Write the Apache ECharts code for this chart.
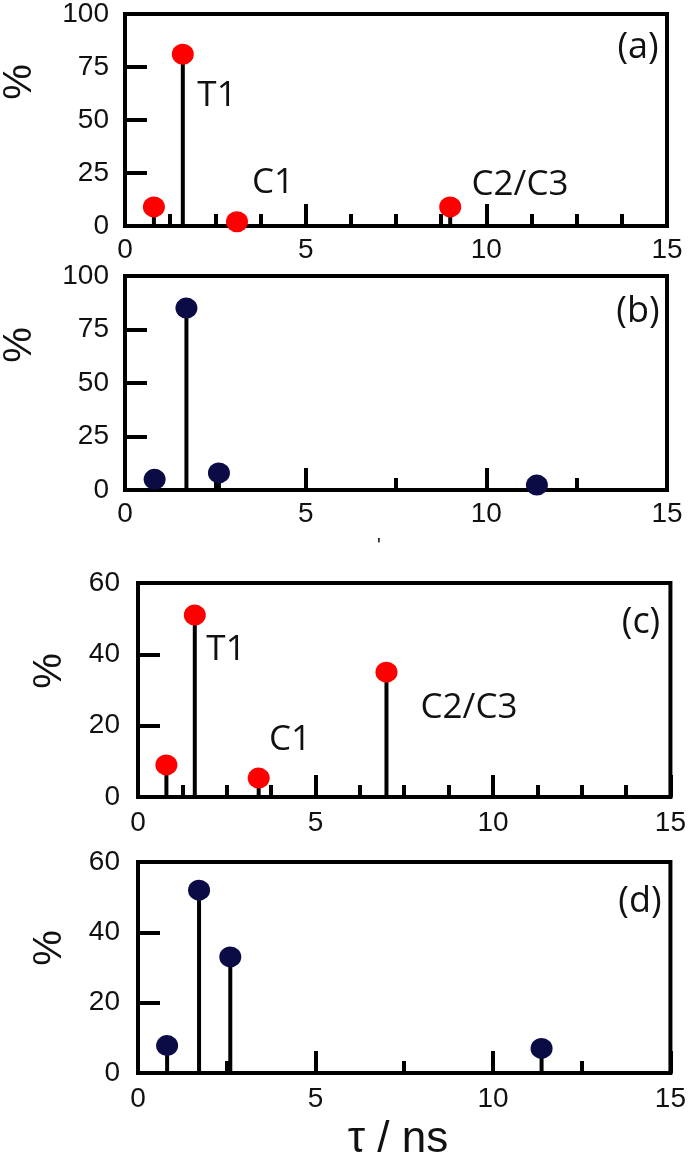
<!DOCTYPE html>
<html>
<head>
<meta charset="utf-8">
<script src="https://cdn.jsdelivr.net/npm/echarts@6/dist/echarts.min.js"></script>
<style>
	html, body { margin: 0; padding: 0; background: #fff; }
	#chart { width: 689px; height: 1162px; }
</style>
</head>
<body>
<div id="chart"></div>
<script>
	// 各面板数据 [tau(ns), %]
	var dataA = [ [ 0.8, 9 ], [ 1.6, 81 ], [ 3.1, 2 ], [ 9.0, 9 ] ];
	var dataB = [ [ 0.82, 5 ], [ 1.7, 85 ], [ 2.6, 8 ], [ 11.4, 2.3 ] ];
	var dataC = [ [ 0.8, 9 ], [ 1.6, 51 ], [ 3.4, 5.3 ], [ 7.0, 35 ] ];
	var dataD = [ [ 0.82, 7.8 ], [ 1.72, 52 ], [ 2.6, 33 ], [ 11.37, 7 ] ];
	var panelTags = [ '(a)', '(b)', '(c)', '(d)' ];
	var peakNames = [ 'T1', 'C1', 'C2/C3' ];
	var xTitle = 'τ / ns';
	var yTitle = '%';

	var red = '#ff0000';
	var navy = '#0b0b45';

	var grids = [
		{ left : 125, top : 13, width : 542, height : 213 },
		{ left : 125, top : 276, width : 542, height : 214 },
		{ left : 138, top : 583, width : 535, height : 214 },
		{ left : 138, top : 862, width : 535, height : 211 }
	];
	grids.forEach(function(g) {
		g.show = true;
		g.borderColor = '#000';
		g.borderWidth = 4;
		g.backgroundColor = 'transparent';
	});

	function xAx(i, minorSplit, margin) {
		return {
			type : 'value', gridIndex : i, min : 0, max : 15, interval : 5,
			axisLine : { lineStyle : { color : '#000', width : 4 } },
			axisTick : { inside : true, length : 22, lineStyle : { color : '#000', width : 4 } },
			minorTick : { show : true, splitNumber : minorSplit, length : 12, lineStyle : { color : '#000', width : 4 } },
			splitLine : { show : false },
			axisLabel : { fontFamily : 'Liberation Sans', fontSize : 28, color : '#111', margin : margin }
		};
	}
	function yAx(i, max, step, margin) {
		return {
			type : 'value', gridIndex : i, min : 0, max : max, interval : step,
			axisLine : { lineStyle : { color : '#000', width : 4 } },
			axisTick : { inside : true, length : 22, lineStyle : { color : '#000', width : 4 } },
			splitLine : { show : false },
			axisLabel : { fontFamily : 'Liberation Sans', fontSize : 28, color : '#111', margin : margin }
		};
	}

	function stems(i, data) {
		return {
			type : 'bar', xAxisIndex : i, yAxisIndex : i, data : data,
			barWidth : 4, itemStyle : { color : '#000' }, z : 2, silent : true
		};
	}
	function dots(i, data, color) {
		return {
			type : 'scatter', xAxisIndex : i, yAxisIndex : i, data : data,
			symbolSize : [ 22, 21 ], itemStyle : { color : color, opacity : 1 }, z : 3
		};
	}

	function txt(x, y, s, size, font) {
		return {
			type : 'text', x : x, y : y, z : 10,
			style : { text : s, fontSize : size, fontFamily : font || 'Open Sans',
				fill : '#111', align : 'center', verticalAlign : 'middle' }
		};
	}
	function yName(x, y) {
		var t = txt(x, y, yTitle, 40, 'Liberation Sans');
		t.rotation = Math.PI / 2;
		return t;
	}

	var graphics = [
		txt(638, 48, panelTags[0], 36),
		txt(638, 312, panelTags[1], 36),
		txt(641, 623, panelTags[2], 36),
		txt(640, 902, panelTags[3], 36),
		txt(217, 96, peakNames[0], 35),
		txt(273, 183, peakNames[1], 35),
		txt(520, 185, peakNames[2], 35),
		txt(226, 650, peakNames[0], 35),
		txt(290, 740, peakNames[1], 35),
		txt(469, 708, peakNames[2], 35),
		yName(20, 82), yName(20, 345), yName(50, 671), yName(50, 948),
		txt(398, 1140, xTitle, 44, 'Liberation Sans'),
		txt(379, 546, '\'', 20, 'Liberation Sans')
	];

	var chart = echarts.init(document.getElementById('chart'));
	chart.setOption({
		animation : false,
		grid : grids,
		xAxis : [ xAx(0, 4, 10), xAx(1, 2, 10), xAx(2, 4, 12), xAx(3, 2, 12) ],
		yAxis : [ yAx(0, 100, 25, 16), yAx(1, 100, 25, 16), yAx(2, 60, 20, 18), yAx(3, 60, 20, 18) ],
		series : [
			stems(0, dataA), dots(0, dataA, red),
			stems(1, dataB), dots(1, dataB, navy),
			stems(2, dataC), dots(2, dataC, red),
			stems(3, dataD), dots(3, dataD, navy)
		],
		graphic : graphics
	});
</script>
</body>
</html>
